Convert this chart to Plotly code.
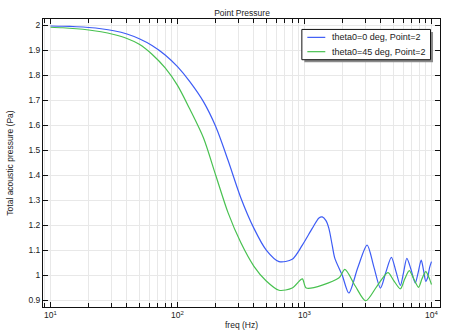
import plotly.graph_objects as go

# Frequency response at receiver point 2 for two incidence angles
freq_theta0 = [10, 12.5, 16, 20, 25, 31.5, 40, 50, 63, 80, 100, 125, 160, 200, 250, 315, 400, 500,
               630, 800, 962, 1151, 1300, 1380, 1476, 1556, 1652, 1734, 1979, 2234, 2630, 3112,
               3508, 3963, 4365, 4831, 5248, 5689, 6026, 6397, 6918, 7447, 7852, 8299, 8650, 9016,
               9333, 9660, 10000]
p_theta0 = [1.998, 1.997, 1.995, 1.992, 1.987, 1.979, 1.966, 1.947, 1.92, 1.882, 1.835, 1.775,
            1.695, 1.595, 1.46, 1.31, 1.187, 1.10, 1.054, 1.063, 1.12, 1.187, 1.229, 1.233, 1.218,
            1.187, 1.12, 1.067, 1.0, 0.928, 1.03, 1.12, 1.035, 0.948, 1.01, 1.071, 1.015, 0.959,
            1.01, 1.067, 1.02, 0.968, 1.01, 1.06, 1.02, 0.975, 0.99, 1.03, 1.054]

freq_theta45 = [10, 12.5, 16, 20, 25, 31.5, 40, 50, 63, 80, 100, 125, 160, 200, 250, 315, 400, 500,
                630, 800, 962, 1033, 1862, 2080, 2512, 3034, 3715, 4539, 5012, 5689, 6166, 6683,
                7244, 7907, 8414, 9016, 9550, 10000]
p_theta45 = [1.993, 1.991, 1.987, 1.982, 1.975, 1.964, 1.948, 1.925, 1.885, 1.83, 1.76, 1.665,
             1.55, 1.40, 1.25, 1.13, 1.035, 0.976, 0.939, 0.948, 0.985, 0.948, 0.988, 1.023,
             0.956, 0.897, 0.955, 1.01, 0.98, 0.945, 0.985, 1.018, 0.985, 0.951, 0.985, 1.014,
             0.99, 0.962]

series_names = ["theta0=0 deg, Point=2", "theta0=45 deg, Point=2"]
series_colors = ["#3d5cf5", "#48c150"]

x_ticks = [10, 100, 1000, 10000]
x_tick_text = ["10<sup>1</sup>", "10<sup>2</sup>", "10<sup>3</sup>", "10<sup>4</sup>"]
y_ticks = [0.9, 1, 1.1, 1.2, 1.3, 1.4, 1.5, 1.6, 1.7, 1.8, 1.9, 2]

FONT = "Liberation Sans, Arial, sans-serif"
TEXT = "#222222"
GRID = "#e8e8e8"

# plot frame in pixels (figure is 449 x 336)
L, R, T, B = 43, 441, 19, 309


def px(x):
    return (x - L) / (R - L)


def py(y):
    return (B - y) / (B - T)


fig = go.Figure()
for f, p, name, col in [(freq_theta0, p_theta0, series_names[0], series_colors[0]),
                        (freq_theta45, p_theta45, series_names[1], series_colors[1])]:
    fig.add_trace(go.Scatter(x=f, y=p, mode="lines", name=name, showlegend=False,
                             line=dict(color=col, width=1.2, shape="spline", smoothing=0.8)))

axis_common = dict(
    showline=True, linecolor="#111111", linewidth=1, mirror="ticks",
    ticks="inside", ticklen=5, tickcolor="#111111", tickwidth=1,
    showgrid=True, gridcolor=GRID, gridwidth=1, zeroline=False,
    tickfont=dict(family=FONT, size=8.5, color=TEXT),
)

# legend box with drop shadow, drawn as shapes plus text annotations
lx0, ly0, lx1, ly1 = 302.5, 29.5, 431.5, 60.0
shapes = [
    dict(type="rect", xref="paper", yref="paper", layer="above",
         x0=px(lx0 + 2.5), x1=px(lx1 + 2.5), y0=py(ly1 + 2.5), y1=py(ly0 + 2.5),
         fillcolor="#8a8a8a", line=dict(width=0)),
    dict(type="rect", xref="paper", yref="paper", layer="above",
         x0=px(lx0), x1=px(lx1), y0=py(ly1), y1=py(ly0),
         fillcolor="white", line=dict(color="#111111", width=1)),
]
annotations = []
for i, (name, col) in enumerate(zip(series_names, series_colors)):
    row_y = 37.5 + i * 14.4
    shapes.append(dict(type="line", xref="paper", yref="paper", layer="above",
                       x0=px(308), x1=px(326), y0=py(row_y), y1=py(row_y),
                       line=dict(color=col, width=1.2)))
    annotations.append(dict(text=name, xref="paper", yref="paper", x=px(331), y=py(row_y),
                            xanchor="left", yanchor="middle", showarrow=False,
                            font=dict(family=FONT, size=9, color=TEXT)))

fig.update_layout(
    width=449, height=336,
    margin=dict(l=L, r=449 - R, t=T, b=336 - B),
    paper_bgcolor="white", plot_bgcolor="white",
    font=dict(family=FONT, size=8.5, color=TEXT),
    title=dict(text="Point Pressure", x=(L + R) / 2 / 449, xanchor="center",
               y=1 - 13 / 336, yanchor="middle", font=dict(size=8.5, color=TEXT)),
    xaxis=dict(type="log", range=[0.941, 4.067], tickvals=x_ticks, ticktext=x_tick_text,
               title=dict(text="freq (Hz)", standoff=2, font=dict(size=8.5, color=TEXT)),
               minor=dict(ticks="inside", ticklen=4, tickcolor="#111111", dtick="D1",
                          showgrid=True, gridcolor=GRID, gridwidth=1),
               **axis_common),
    yaxis=dict(range=[0.872, 2.026], tickvals=y_ticks,
               title=dict(text="Total acoustic pressure (Pa)", standoff=13,
                          font=dict(size=8.5, color=TEXT)),
               **axis_common),
    shapes=shapes,
    annotations=annotations,
    showlegend=False,
)

fig.write_html("out.html")
